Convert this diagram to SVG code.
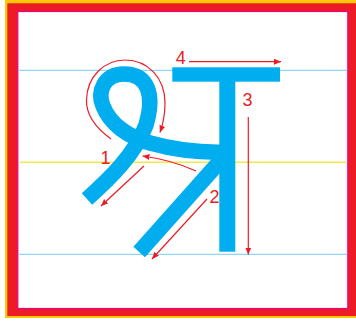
<svg xmlns="http://www.w3.org/2000/svg" width="356" height="321" viewBox="0 0 356 321">
<style>
.guide-b{stroke:#8DD8F8;stroke-width:1.3;fill:none}
.guide-y{stroke:#F3E84A;stroke-width:1.4;fill:none}
.ink{fill:none;stroke:#00AEEF;stroke-width:15.5;stroke-linecap:butt}
.ink-fill{fill:#00AEEF}
.arr{fill:none;stroke:#ED1C24;stroke-width:1.2;marker-end:url(#ah)}
.lbl{font-family:"Liberation Sans",Arial,sans-serif;font-size:18px;fill:#ED1C24;text-anchor:middle}
</style>
<defs>
<marker id="ah" markerUnits="userSpaceOnUse" markerWidth="8" markerHeight="7" refX="7" refY="3" orient="auto">
<path d="M0,0 L7,3 L0,6 z" fill="#ED1C24"/>
</marker>
</defs>
<rect width="356" height="321" fill="#ffffff"/>
<g id="frame">
<rect x="5" y="0" width="356" height="318" fill="#FFC60B"/>
<rect x="7.3" y="3.3" width="350" height="312.7" fill="#ED1C24"/>
<rect x="17.8" y="11.5" width="330" height="297" fill="#ffffff" stroke="#EC008C" stroke-width="1.2"/>
</g>
<g id="guides">
<line class="guide-b" x1="19" y1="70.3" x2="347" y2="70.3"/>
<line class="guide-y" x1="20" y1="162.3" x2="346" y2="162.3"/>
<line class="guide-b" x1="19" y1="254.3" x2="347" y2="254.3"/>
</g>
<g id="letter">
<g id="stroke-loop">
<path class="ink" d="M87,199 C108,180 135,155 146,125 C155,95 148,74 124,74 C104,74 97,92 103,106 C110,124 128,137 150,143 C175,150 200,153 228,152"/>
</g>
<g id="stroke-diagonal">
<path class="ink" d="M139.2,252 L222,159"/>
</g>
<g id="stroke-stem">
<rect class="ink-fill" x="219.3" y="75" width="16" height="176.7"/>
</g>
<g id="stroke-bar">
<rect class="ink-fill" x="172.3" y="67.3" width="107.7" height="14.4"/>
</g>
</g>
<g id="connectors">
<path class="arr" d="M111,139 C96,128 86,115 86.5,100 C87,76 105,60 125,60 C148,60 165,78 165,103 C165,115 163,124 160,132.5"/>
<path class="arr" d="M196,171 Q172,160 142.5,156"/>
<path class="arr" d="M144,166 L101,206"/>
<path class="arr" d="M207,199 L152,259"/>
<path class="arr" d="M248.3,117 L248.3,254.5"/>
<path class="arr" d="M189,61.7 L281,61.7"/>
</g>
<g id="labels">
<text class="lbl" x="105.5" y="163.5">1</text>
<text class="lbl" x="214.5" y="202.7">2</text>
<text class="lbl" x="247.5" y="105.7">3</text>
<text class="lbl" x="180.7" y="64.3">4</text>
</g>
</svg>
